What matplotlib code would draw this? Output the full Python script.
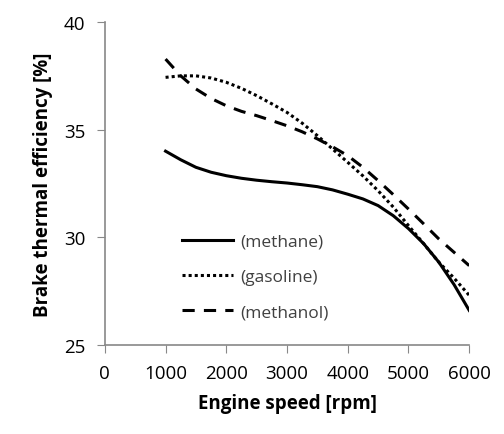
import matplotlib
matplotlib.use('Agg')
import matplotlib.pyplot as plt

# -------------------------
# data
# -------------------------
speed = [1000, 1250, 1500, 1750, 2000, 2250, 2500, 2750, 3000, 3250, 3500,
         3750, 4000, 4250, 4500, 4750, 5000, 5250, 5500, 5750, 6000]
methane = [34.0, 33.6, 33.25, 33.02, 32.86, 32.74, 32.65, 32.58, 32.52, 32.44, 32.35,
           32.2, 32.0, 31.78, 31.47, 31.0, 30.4, 29.7, 28.84, 27.8, 26.6]
gasoline = [37.43, 37.5, 37.5, 37.4, 37.2, 36.92, 36.58, 36.2, 35.8, 35.3, 34.72,
            34.1, 33.48, 32.85, 32.16, 31.4, 30.54, 29.7, 28.84, 28.1, 27.3]
methanol = [38.28, 37.5, 36.89, 36.45, 36.11, 35.85, 35.65, 35.42, 35.18, 34.9, 34.57,
            34.2, 33.79, 33.25, 32.63, 31.98, 31.31, 30.62, 29.92, 29.3, 28.68]

xticks = [0, 1000, 2000, 3000, 4000, 5000, 6000]
yticks = [25, 30, 35, 40]

plt.rcParams['font.family'] = ['Open Sans', 'DejaVu Sans']

fig = plt.figure(figsize=(5.04, 4.35), dpi=100)
ax = fig.add_axes([0.208, 0.205, 0.723, 0.742])

ax.plot(speed, methane, color='black', lw=2.2, ls='-', label='(methane)')
ax.plot(speed, gasoline, color='black', lw=2.2, ls=(0, (1, 1)), label='(gasoline)')
ax.plot(speed, methanol, color='black', lw=2.2, ls=(0, (4, 3)), label='(methanol)')

ax.set_xlim(0, 6000)
ax.set_ylim(25, 40)
ax.set_xticks(xticks)
ax.set_yticks(yticks)
ax.tick_params(direction='out', length=6, color='#888888', labelsize=13.5, pad=8)

for side in ['top', 'right']:
    ax.spines[side].set_visible(False)
for side in ['left', 'bottom']:
    ax.spines[side].set_color('#888888')
    ax.spines[side].set_linewidth(1.2)

ax.set_xlabel('Engine speed [rpm]', fontsize=13.5, fontweight='bold', labelpad=8)
ax.set_ylabel('Brake thermal efficiency [%]', fontsize=13.5, fontweight='bold', labelpad=8)

leg = ax.legend(loc='lower left', bbox_to_anchor=(0.17, 0.027), frameon=False,
                handlelength=2.9, handletextpad=0.45, labelspacing=1.1,
                fontsize=12.5)
for t in leg.get_texts():
    t.set_color('#404040')

fig.savefig('out.png', dpi=100)
